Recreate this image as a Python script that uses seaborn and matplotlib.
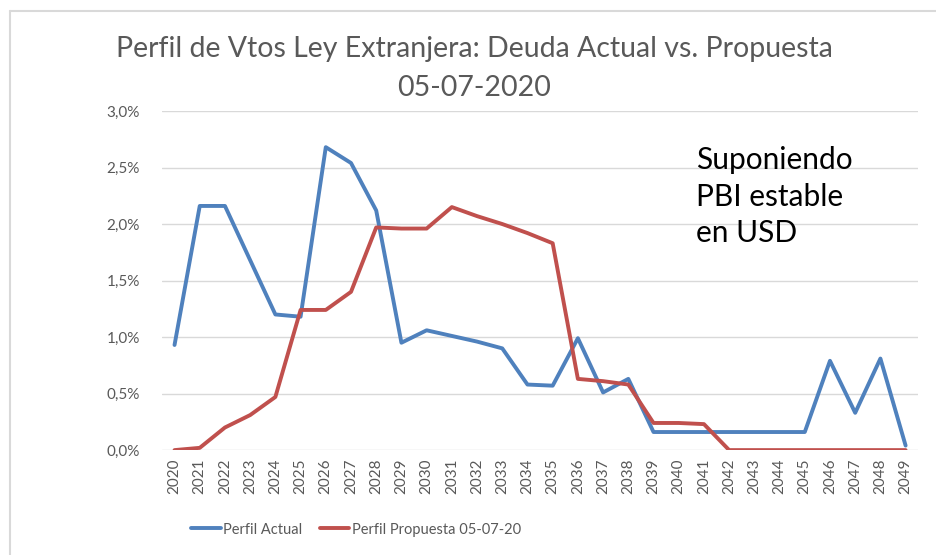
import pandas as pd
import numpy as np
import matplotlib.pyplot as plt
import seaborn as sns
from matplotlib.ticker import FuncFormatter

years = list(range(2020, 2050))

perfil_actual = [0.93, 2.16, 2.16, 1.68, 1.20, 1.18, 2.68, 2.54, 2.12, 0.95,
                 1.06, 1.01, 0.96, 0.90, 0.58, 0.57, 0.99, 0.51, 0.63, 0.16,
                 0.16, 0.16, 0.16, 0.16, 0.16, 0.16, 0.79, 0.33, 0.81, 0.04]

perfil_propuesta = [0.00, 0.02, 0.20, 0.31, 0.47, 1.24, 1.24, 1.40, 1.97, 1.96,
                    1.96, 2.15, 2.07, 2.00, 1.92, 1.83, 0.63, 0.61, 0.58, 0.24,
                    0.24, 0.23, 0.00, 0.00, 0.00, 0.00, 0.00, 0.00, 0.00, 0.00]

series_names = ['Perfil Actual', 'Perfil Propuesta 05-07-20']
title = 'Perfil de Vtos Ley Extranjera: Deuda Actual vs. Propuesta\n05-07-2020'
note = 'Suponiendo\nPBI estable\nen USD'

df = pd.DataFrame({'year': years * 2,
                   'value': perfil_actual + perfil_propuesta,
                   'serie': [series_names[0]] * len(years) + [series_names[1]] * len(years)})

sns.set_style('white')
plt.rcParams['font.family'] = ['Lato', 'DejaVu Sans']

fig = plt.figure(figsize=(9.36, 5.55), dpi=100)
ax = fig.add_axes([0.173, 0.189, 0.808, 0.611])

sns.lineplot(data=df, x='year', y='value', hue='serie', ax=ax,
             palette=['#4F81BD', '#C0504D'], linewidth=2.8, legend=True)

ax.set_xlim(2019.5, 2049.5)
ax.set_ylim(0, 3.0)
ax.set_yticks(np.arange(0, 3.01, 0.5))
ax.yaxis.set_major_formatter(FuncFormatter(lambda v, p: ('%.1f%%' % v).replace('.', ',')))
ax.set_xticks(years)
ax.set_xticklabels([str(y) for y in years], rotation=90, fontsize=11, color='#595959')
ax.tick_params(axis='y', labelsize=11, labelcolor='#595959', length=0, pad=16)
ax.tick_params(axis='x', length=0, pad=6)
ax.grid(axis='y', color='#D9D9D9', linewidth=1)
ax.set_axisbelow(True)
for s in ax.spines.values():
    s.set_visible(False)
ax.set_xlabel('')
ax.set_ylabel('')

fig.text(0.507, 0.876, title, fontsize=20.5, color='#595959', ha='center', va='center',
         linespacing=1.62)

ax.text(0.706, 0.897, note, transform=ax.transAxes, fontsize=21.5,
        color='black', va='top', ha='left', linespacing=1.38)

leg = ax.legend(loc='upper center', bbox_to_anchor=(0.257, -0.175), ncol=2, frameon=False,
                fontsize=10.5, handlelength=2.0, columnspacing=1.2, handletextpad=0.2)
for t in leg.get_texts():
    t.set_color('#595959')

fig.add_artist(plt.Line2D([0.011, 0.011], [0, 0.98], color='#D9D9D9', lw=1.5))
fig.add_artist(plt.Line2D([0.011, 1.0], [0.98, 0.98], color='#D9D9D9', lw=1.5))

plt.savefig('out.png', dpi=100)
